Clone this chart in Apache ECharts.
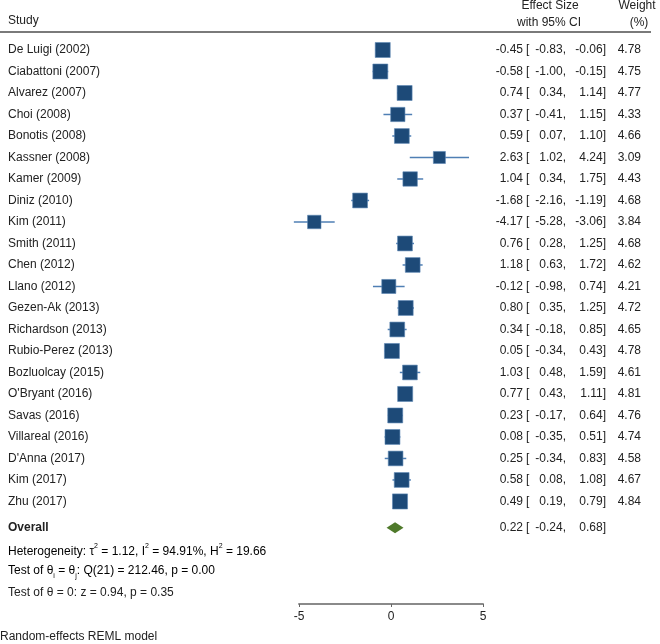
<!DOCTYPE html>
<html>
<head>
<meta charset="utf-8">
<script src="https://cdn.jsdelivr.net/npm/echarts@6/dist/echarts.min.js"></script>
<style>html,body{margin:0;padding:0;background:#fff}#c{width:660px;height:644px}</style>
</head>
<body>
<div id="c"></div>
<script>
const studies = ["De Luigi (2002)","Ciabattoni (2007)","Alvarez (2007)","Choi (2008)","Bonotis (2008)","Kassner (2008)","Kamer (2009)","Diniz (2010)","Kim (2011)","Smith (2011)","Chen (2012)","Llano (2012)","Gezen-Ak (2013)","Richardson (2013)","Rubio-Perez (2013)","Bozluolcay (2015)","O'Bryant (2016)","Savas (2016)","Villareal (2016)","D'Anna (2017)","Kim (2017)","Zhu (2017)"];
const effect = [-0.45,-0.58,0.74,0.37,0.59,2.63,1.04,-1.68,-4.17,0.76,1.18,-0.12,0.80,0.34,0.05,1.03,0.77,0.23,0.08,0.25,0.58,0.49];
const lower  = [-0.83,-1.00,0.34,-0.41,0.07,1.02,0.34,-2.16,-5.28,0.28,0.63,-0.98,0.35,-0.18,-0.34,0.48,0.43,-0.17,-0.35,-0.34,0.08,0.19];
const upper  = [-0.06,-0.15,1.14,1.15,1.10,4.24,1.75,-1.19,-3.06,1.25,1.72,0.74,1.25,0.85,0.43,1.59,1.11,0.64,0.51,0.83,1.08,0.79];
const weight = [4.78,4.75,4.77,4.33,4.66,3.09,4.43,4.68,3.84,4.68,4.62,4.21,4.72,4.65,4.78,4.61,4.81,4.76,4.74,4.58,4.67,4.84];
const overall = {label:"Overall", effect:0.22, lower:-0.24, upper:0.68};
const xTicks = [-5, 0, 5];

const FONT = "'Liberation Sans', Arial, sans-serif";
const TXT = "#222";
const SQ = "#1d4a78";
const CI = "#4f7fb4";
const DIA = "#4f7a2b";
const OVERALL_ROW = 22.22;

function f2(v){ return v.toFixed(2); }

function numberTexts(y, es, lo, hi, w){
  const arr = [
    {x:523, align:'right', t:f2(es)},
    {x:526, align:'left', t:'['},
    {x:566, align:'right', t:f2(lo)+','},
    {x:606, align:'right', t:f2(hi)+']'}
  ];
  if (w != null) arr.push({x:641, align:'right', t:f2(w)});
  return arr.map(a => ({type:'text', style:{x:a.x, y:y, text:a.t, align:a.align, verticalAlign:'middle', fontFamily:FONT, fontSize:12, fill:TXT}}));
}

const rowData = studies.map((s,i)=>[i, effect[i], lower[i], upper[i], weight[i]]);

const chart = echarts.init(document.getElementById('c'), null, {renderer:'canvas'});
chart.setOption({
  animation:false,
  backgroundColor:'#fff',
  grid:{left:299, top:39.25, width:184, height:564.75},
  xAxis:{type:'value', min:-5, max:5, interval:5,
    splitLine:{show:false},
    axisLine:{show:true, onZero:false, lineStyle:{color:'#8a8a8a', width:2}},
    axisTick:{show:true, length:3, lineStyle:{color:'#666', width:1}},
    axisLabel:{margin:7, fontFamily:FONT, fontSize:12, color:TXT, formatter:v=>String(v)}
  },
  yAxis:{type:'value', inverse:true, min:-0.5, max:25.77, show:false},
  graphic:[
    {type:'text', left:8, top:15, style:{text:'Study', fontFamily:FONT, fontSize:12, fill:TXT}},
    {type:'text', x:550, y:6, style:{text:'Effect Size', align:'center', verticalAlign:'middle', fontFamily:FONT, fontSize:12, fill:TXT}},
    {type:'text', x:549, y:23, style:{text:'with 95% CI', align:'center', verticalAlign:'middle', fontFamily:FONT, fontSize:12, fill:TXT}},
    {type:'text', x:637, y:6, style:{text:'Weight', align:'center', verticalAlign:'middle', fontFamily:FONT, fontSize:12, fill:TXT}},
    {type:'text', x:639, y:23, style:{text:'(%)', align:'center', verticalAlign:'middle', fontFamily:FONT, fontSize:12, fill:TXT}},
    {type:'line', shape:{x1:0, y1:32, x2:651, y2:32}, style:{stroke:'#7a7a7a', lineWidth:2}},
    {type:'text', x:8, y:550, style:{text:'{n|Heterogeneity: τ}{s|2}{n| = 1.12, I}{s|2}{n| = 94.91%, H}{s|2}{n| = 19.66}', verticalAlign:'middle',
      rich:{n:{fontFamily:FONT, fontSize:12, color:TXT, lineHeight:15, verticalAlign:'bottom'}, s:{fontFamily:FONT, fontSize:7, color:TXT, lineHeight:15, verticalAlign:'top'}}}},
    {type:'text', x:8, y:572, style:{text:'{n|Test of θ}{b|i}{n| = θ}{b|j}{n|: Q(21) = 212.46, p = 0.00}', verticalAlign:'middle',
      rich:{n:{fontFamily:FONT, fontSize:12, color:TXT, lineHeight:15, verticalAlign:'top'}, b:{fontFamily:FONT, fontSize:7, color:TXT, lineHeight:15, verticalAlign:'bottom'}}}},
    {type:'text', x:8, y:593, style:{text:'Test of θ = 0: z = 0.94, p = 0.35', verticalAlign:'middle', fontFamily:FONT, fontSize:12, fill:TXT}},
    {type:'text', x:0, y:637, style:{text:'Random-effects REML model', verticalAlign:'middle', fontFamily:FONT, fontSize:12, fill:TXT}}
  ],
  series:[
    {type:'custom', clip:false, data:rowData,
      renderItem:function(params, api){
        const i = api.value(0), es = api.value(1), lo = api.value(2), hi = api.value(3), w = api.value(4);
        const c = api.coord([es, i]);
        const l = api.coord([lo, i]);
        const h = api.coord([hi, i]);
        const side = 6.86*Math.sqrt(w);
        const kids = [
          {type:'line', shape:{x1:l[0], y1:c[1], x2:h[0], y2:c[1]}, style:{stroke:CI, lineWidth:1.5}},
          {type:'rect', shape:{x:c[0]-side/2, y:c[1]-side/2, width:side, height:side}, style:{fill:SQ, stroke:'#5d86b3', lineWidth:0.6}},
          {type:'text', style:{x:8, y:c[1], text:studies[params.dataIndex], verticalAlign:'middle', fontFamily:FONT, fontSize:12, fill:TXT}}
        ].concat(numberTexts(c[1], es, lo, hi, w));
        return {type:'group', children:kids};
      }
    },
    {type:'custom', clip:false, data:[[OVERALL_ROW, overall.effect, overall.lower, overall.upper]],
      renderItem:function(params, api){
        const r = api.value(0), es = api.value(1), lo = api.value(2), hi = api.value(3);
        const c = api.coord([es, r]);
        const l = api.coord([lo, r]);
        const h = api.coord([hi, r]);
        const hh = 5.5;
        const kids = [
          {type:'polygon', shape:{points:[[l[0],c[1]],[c[0],c[1]-hh],[h[0],c[1]],[c[0],c[1]+hh]]}, style:{fill:DIA}},
          {type:'text', style:{x:8, y:c[1], text:overall.label, verticalAlign:'middle', fontFamily:FONT, fontSize:12, fontWeight:'bold', fill:TXT}}
        ].concat(numberTexts(c[1], es, lo, hi, null));
        return {type:'group', children:kids};
      }
    }
  ]
});
</script>
</body>
</html>
